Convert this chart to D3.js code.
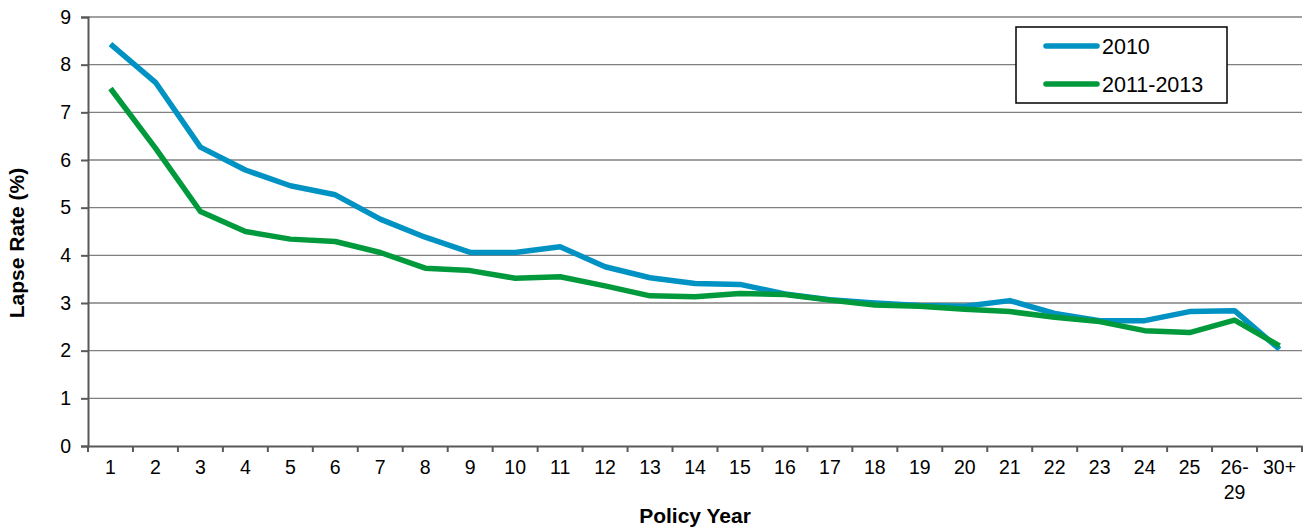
<!DOCTYPE html>
<html>
<head>
<meta charset="utf-8">
<script src="https://cdn.jsdelivr.net/npm/d3@7"></script>
<style>
  html, body { margin: 0; padding: 0; background: #fff; }
  svg { display: block; font-family: Arial, "Liberation Sans", sans-serif; }
</style>
</head>
<body>
<svg id="chart" width="1310" height="529"></svg>
<script>
const categories = ["1","2","3","4","5","6","7","8","9","10","11","12","13","14","15","16","17","18","19","20","21","22","23","24","25","26-29","30+"];
const series2010 = [8.43,7.63,6.27,5.79,5.46,5.27,4.76,4.38,4.06,4.06,4.18,3.76,3.53,3.41,3.39,3.19,3.07,3.00,2.95,2.93,3.05,2.78,2.63,2.63,2.82,2.84,2.03];
const series2011 = [7.50,6.25,4.92,4.50,4.34,4.29,4.06,3.73,3.68,3.52,3.55,3.36,3.15,3.13,3.20,3.18,3.06,2.96,2.93,2.87,2.82,2.70,2.61,2.42,2.38,2.64,2.10];
const yTicks = [0,1,2,3,4,5,6,7,8,9];
const seriesNames = ["2010","2011-2013"];
const colors = ["#0092C3","#009A3D"];

const svg = d3.select("#chart");
const mLeft = 88, mRight = 1302, mTop = 17, mBottom = 446;

const x = d3.scaleBand().domain(categories).range([mLeft, mRight]).paddingInner(0).paddingOuter(0);
const y = d3.scaleLinear().domain([0, 9]).range([mBottom, mTop]);

// gridlines
svg.append("g").selectAll("line").data(yTicks.filter(d => d > 0)).join("line")
  .attr("x1", mLeft).attr("x2", mRight)
  .attr("y1", d => y(d)).attr("y2", d => y(d))
  .attr("stroke", "#808080").attr("stroke-width", 1.4);

// y axis
const yAxis = svg.append("g").attr("transform", `translate(${mLeft},0)`)
  .call(d3.axisLeft(y).tickValues(yTicks).tickSize(7).tickPadding(10).tickFormat(d3.format("d")));
yAxis.select(".domain").attr("stroke", "#595959").attr("stroke-width", 2);
yAxis.selectAll(".tick line").attr("stroke", "#595959").attr("stroke-width", 2);
yAxis.selectAll(".tick text").attr("font-size", 19.5).attr("fill", "#000")
  .attr("font-family", "Arial, 'Liberation Sans', sans-serif");

// x axis
const xAxis = svg.append("g").attr("transform", `translate(0,${mBottom})`)
  .call(d3.axisBottom(x).tickSize(0).tickPadding(14));
xAxis.select(".domain").attr("stroke", "#595959").attr("stroke-width", 2);
xAxis.selectAll(".tick text").attr("font-size", 19.5).attr("fill", "#000")
  .attr("font-family", "Arial, 'Liberation Sans', sans-serif")
  .each(function(d) {
    const t = d3.select(this);
    if (d.includes("-")) {
      const parts = d.split("-");
      t.text(null);
      t.append("tspan").attr("x", 0).attr("dy", "0.71em").text(parts[0] + "-");
      t.append("tspan").attr("x", 0).attr("dy", 25).text(parts[1]);
      t.attr("dy", null);
    }
  });
// boundary ticks
const bounds = categories.map(c => x(c)).concat([mRight]);
svg.append("g").selectAll("line").data(bounds).join("line")
  .attr("x1", d => d).attr("x2", d => d)
  .attr("y1", mBottom).attr("y2", mBottom + 6)
  .attr("stroke", "#595959").attr("stroke-width", 2);

// lines
const line = d3.line()
  .x((d, i) => x(categories[i]) + x.bandwidth() / 2)
  .y(d => y(d));
[series2010, series2011].forEach((s, k) => {
  svg.append("path").datum(s)
    .attr("d", line)
    .attr("fill", "none")
    .attr("stroke", colors[k])
    .attr("stroke-width", 5.5)
    .attr("stroke-linejoin", "round")
    .attr("stroke-linecap", "butt");
});

// axis titles
svg.append("text")
  .attr("x", (mLeft + mRight) / 2).attr("y", 523)
  .attr("text-anchor", "middle")
  .attr("font-size", 21).attr("font-weight", "bold")
  .text("Policy Year");
svg.append("text")
  .attr("transform", `translate(24,243) rotate(-90)`)
  .attr("text-anchor", "middle")
  .attr("font-size", 21).attr("font-weight", "bold")
  .text("Lapse Rate (%)");

// legend
const lg = svg.append("g");
lg.append("rect").attr("x", 1016).attr("y", 27).attr("width", 211).attr("height", 76)
  .attr("fill", "#fff").attr("stroke", "#000").attr("stroke-width", 1.5);
seriesNames.forEach((name, i) => {
  const ly = 46 + i * 38;
  lg.append("line").attr("x1", 1046).attr("x2", 1097).attr("y1", ly).attr("y2", ly)
    .attr("stroke", colors[i]).attr("stroke-width", 5.5).attr("stroke-linecap", "round");
  lg.append("text").attr("x", 1102).attr("y", ly + 8)
    .attr("font-size", 21.5).attr("fill", "#000").text(name);
});
</script>
</body>
</html>
